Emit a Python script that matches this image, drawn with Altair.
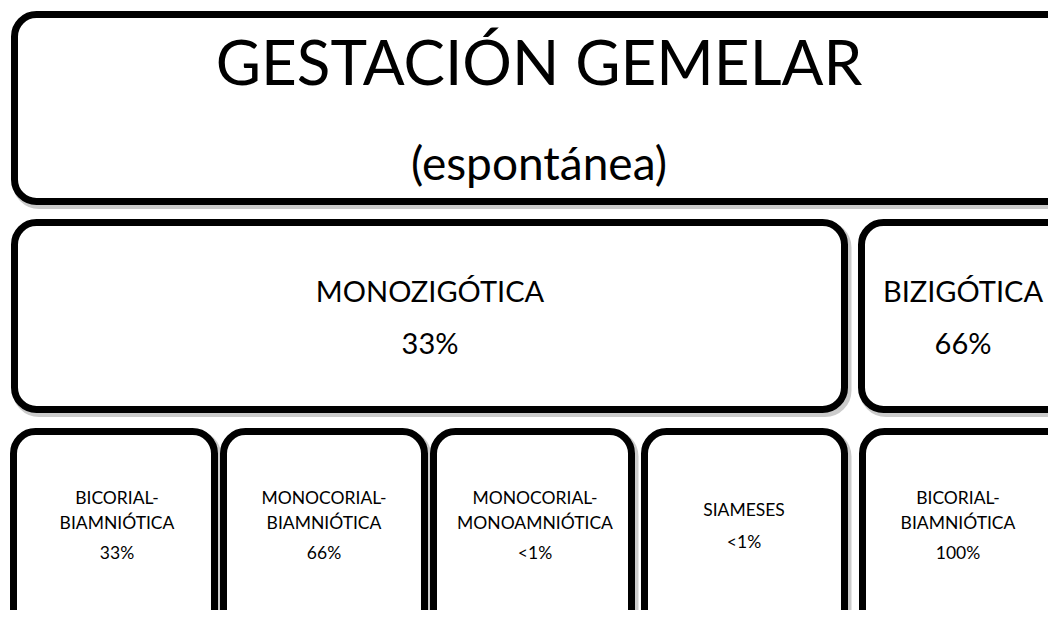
import altair as alt
import pandas as pd

# ---- boxes (pixel layout of the diagram, stroke centre-lines) ----
box_id = ["top", "mono", "bi", "b1", "b2", "b3", "b4", "b5"]
box_x0 = [14.5, 14.5, 861.5, 13.5, 223.5, 433.5, 644.5, 862.5]
box_x1 = [1075, 844.5, 1075, 214.5, 424.5, 631.5, 844.5, 1075]
box_y0 = [14.5, 222.5, 222.5, 431.5, 431.5, 431.5, 431.5, 431.5]
box_y1 = [201.5, 409.5, 409.5, 640, 640, 640, 640, 640]

# ---- text lines ----
txt_label = [
    "GESTACIÓN GEMELAR", "(espontánea)",
    "MONOZIGÓTICA", "33%", "BIZIGÓTICA", "66%",
    "BICORIAL-", "BIAMNIÓTICA", "33%",
    "MONOCORIAL-", "BIAMNIÓTICA", "66%",
    "MONOCORIAL-", "MONOAMNIÓTICA", "<1%",
    "SIAMESES", "<1%",
    "BICORIAL-", "BIAMNIÓTICA", "100%",
]
txt_x = [539, 539,
         430, 430, 963, 963,
         117, 117, 117,
         324, 324, 324,
         535, 535, 535,
         744, 744,
         958, 958, 958]
txt_y = [85, 180,
         302, 354, 302, 354,
         504, 529, 559,
         504, 529, 559,
         504, 529, 559,
         516, 548,
         504, 529, 559]
txt_size = [62, 46,
            29, 29, 29, 29,
            17.5, 17.5, 17.5,
            17.5, 17.5, 17.5,
            17.5, 17.5, 17.5,
            17.5, 17.5,
            17.5, 17.5, 17.5]

boxes = pd.DataFrame({"id": box_id, "x0": box_x0, "x1": box_x1, "y0": box_y0, "y1": box_y1})
texts = pd.DataFrame({"label": txt_label, "x": txt_x, "y": txt_y, "fs": txt_size})

W, H = 1040, 602
OFF = 8
xs = alt.Scale(domain=[OFF, OFF + W], range=[0, W], nice=False, zero=False)
ys = alt.Scale(domain=[OFF, OFF + H], range=[0, H], nice=False, zero=False)

shadow = alt.Chart(boxes).transform_calculate(
    sx0="datum.x0 + 2.5", sx1="datum.x1 + 2.5", sy0="datum.y0 + 3", sy1="datum.y1 + 3"
).mark_rect(
    cornerRadius=22, fill="#ffffff", fillOpacity=0, stroke="#8c8c8c",
    strokeOpacity=0.45, strokeWidth=9, clip=True
).encode(
    x=alt.X("sx0:Q", scale=xs, axis=None),
    x2="sx1:Q",
    y=alt.Y("sy0:Q", scale=ys, axis=None),
    y2="sy1:Q",
)

rects = alt.Chart(boxes).mark_rect(
    cornerRadius=22, fill="#ffffff", stroke="#000000", strokeWidth=7, clip=True
).encode(
    x=alt.X("x0:Q", scale=xs, axis=None),
    x2="x1:Q",
    y=alt.Y("y0:Q", scale=ys, axis=None),
    y2="y1:Q",
)

labels = alt.Chart(texts).mark_text(
    font="Lato", color="#000000", align="center", baseline="alphabetic"
).encode(
    x=alt.X("x:Q", scale=xs, axis=None),
    y=alt.Y("y:Q", scale=ys, axis=None),
    text="label:N",
    size=alt.Size("fs:Q", scale=None, legend=None),
)

chart = alt.layer(shadow, rects, labels).properties(
    width=W, height=H, padding=0, background="#ffffff"
).configure_view(stroke=None)

chart.save("out.html", embed_options={"renderer": "svg", "actions": False})
